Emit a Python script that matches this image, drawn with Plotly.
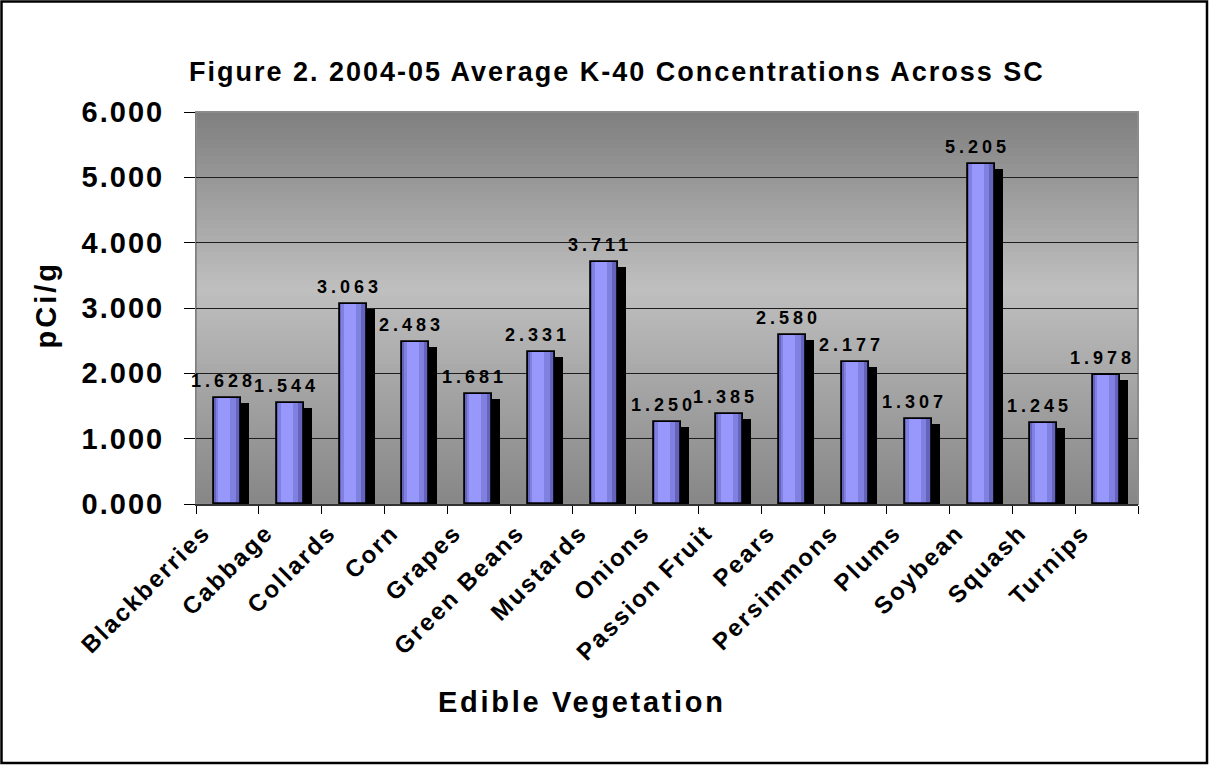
import plotly.graph_objects as go

# ---- data -------------------------------------------------------------
categories = [
    "Blackberries", "Cabbage", "Collards", "Corn", "Grapes", "Green Beans",
    "Mustards", "Onions", "Passion Fruit", "Pears", "Persimmons", "Plums",
    "Soybean", "Squash", "Turnips",
]
k40_pci_g = [
    1.628, 1.544, 3.063, 2.483, 1.681, 2.331,
    3.711, 1.250, 1.385, 2.580, 2.177, 1.307,
    5.205, 1.245, 1.978,
]
y_tick_values = [0, 1, 2, 3, 4, 5, 6]

chart_title = "Figure 2. 2004-05 Average K-40 Concentrations Across SC"
x_axis_title = "Edible Vegetation"
y_axis_title = "pCi/g"

# ---- geometry / style ---------------------------------------------------
W, H = 1209, 765
ML, MR, MT, MB = 196, 71, 112, 261
PW, PH = W - ML - MR, H - MT - MB
FONT = "Arial, Liberation Sans, sans-serif"

BW = 0.43                      # bar width (category units)
SHADOW_DX = 0.13               # shadow offset to the right
SHADOW_DROP = 5 / PH * 6       # shadow drop, ~5 px in y units


def px_x(px):
    """figure pixel x -> paper x"""
    return (px - ML) / PW


def px_y(py):
    """figure pixel y (from top) -> paper y"""
    return (H - MB - py) / PH


fig = go.Figure()

# drop shadow behind every bar
fig.add_trace(go.Bar(
    x=categories, y=[v - SHADOW_DROP for v in k40_pci_g],
    width=BW, offset=-BW / 2 + SHADOW_DX,
    marker=dict(color="#000000", line=dict(width=0)),
    hoverinfo="skip", showlegend=False,
))
# bar body: dark edges, lighter middle bands (cylinder-like shading)
for frac_left, frac_w, col in [
    (0.00, 1.00, "#6464bc"),
    (0.06, 0.74, "#8080e0"),
    (0.16, 0.44, "#9898fc"),
]:
    fig.add_trace(go.Bar(
        x=categories, y=k40_pci_g,
        width=BW * frac_w, offset=-BW / 2 + BW * frac_left,
        marker=dict(color=col, line=dict(width=0)),
        hoverinfo="skip", showlegend=False,
    ))
# outline on top
fig.add_trace(go.Bar(
    x=categories, y=k40_pci_g,
    width=BW, offset=-BW / 2,
    marker=dict(color="rgba(0,0,0,0)", line=dict(color="#000000", width=1.8)),
    hovertemplate="%{x}: %{y:.3f} pCi/g<extra></extra>",
    showlegend=False,
))

# ---- plot-area background: vertical gray gradient --------------------
shapes = []
N = 98
stops = [(0.0, 127), (0.45, 191), (1.0, 134)]


def gray_at(t):
    for (t0, g0), (t1, g1) in zip(stops[:-1], stops[1:]):
        if t0 <= t <= t1:
            return g0 + (g1 - g0) * (t - t0) / (t1 - t0)
    return stops[-1][1]


for i in range(N):
    g = int(round(gray_at((i + 0.5) / N)))
    shapes.append(dict(
        type="rect", xref="x domain", yref="y domain",
        x0=0, x1=1, y0=1 - (i + 1) / N - 0.002, y1=1 - i / N,
        fillcolor=f"rgb({g},{g},{g})", line=dict(width=0), layer="below",
    ))
# plot-area frame
shapes.append(dict(
    type="rect", xref="x domain", yref="y domain", x0=0, x1=1, y0=0, y1=1,
    line=dict(color="#8c8c8c", width=2), fillcolor="rgba(0,0,0,0)", layer="below",
))
# outer chart border
shapes.append(dict(
    type="rect", xref="paper", yref="paper",
    x0=px_x(1.5), x1=px_x(W - 2), y0=px_y(H - 2), y1=px_y(1.5),
    line=dict(color="#000000", width=2.5), fillcolor="rgba(0,0,0,0)", layer="above",
))

# ---- text: titles and value labels -----------------------------------
annotations = [
    dict(text=chart_title, xref="paper", yref="paper",
         x=px_x(617), y=px_y(72), xanchor="center", yanchor="middle",
         showarrow=False, font=dict(family=FONT, size=27, color="#000", weight="bold")),
    dict(text=x_axis_title, xref="paper", yref="paper",
         x=px_x(582), y=px_y(702), xanchor="center", yanchor="middle",
         showarrow=False, font=dict(family=FONT, size=29, color="#000", weight="bold")),
    dict(text=y_axis_title, xref="paper", yref="paper",
         x=px_x(46), y=px_y(305), xanchor="center", yanchor="middle",
         textangle=-90, showarrow=False,
         font=dict(family=FONT, size=29, color="#000", weight="bold")),
]
for cat, v in zip(categories, k40_pci_g):
    annotations.append(dict(
        text=f"{v:.3f}", x=cat, y=v, xref="x", yref="y",
        xanchor="center", yanchor="bottom", yshift=5, xshift=-4,
        showarrow=False, font=dict(family=FONT, size=18, color="#000", weight="bold"),
    ))

fig.update_layout(
    width=W, height=H,
    margin=dict(l=ML, r=MR, t=MT, b=MB, autoexpand=False),
    paper_bgcolor="#ffffff", plot_bgcolor="rgba(0,0,0,0)",
    barmode="overlay", bargap=0,
    showlegend=False,
    shapes=shapes, annotations=annotations,
    font=dict(family=FONT, color="#000"),
)
fig.update_xaxes(
    type="category", range=[-0.5, len(categories) - 0.5],
    tickangle=-45, tickson="boundaries", ticks="outside", ticklen=8,
    tickcolor="#000", tickwidth=1,
    tickfont=dict(family=FONT, size=24, color="#000", weight="bold"),
    ticklabelshift=-24, ticklabelstandoff=3,
    showline=True, linecolor="#333333", linewidth=2,
    showgrid=False, zeroline=False,
)
fig.update_yaxes(
    range=[0, 6], tickvals=y_tick_values, tickformat=".3f",
    ticks="outside", ticklen=11, tickcolor="#000", tickwidth=1,
    tickfont=dict(family=FONT, size=29, color="#000", weight="bold"),
    ticklabelstandoff=14,
    showline=True, linecolor="#808080", linewidth=1,
    showgrid=True, gridcolor="#1e1e1e", gridwidth=1, zeroline=False,
)

# letter-spaced lettering for titles, ticks and value labels
post_js = """
var gd = document.getElementById('{plot_id}');
function spaced(sel, v) {
  gd.querySelectorAll(sel).forEach(function (t) { t.style.letterSpacing = v; });
}
spaced('.annotation[data-index="0"] .annotation-text', '2px');
spaced('.annotation[data-index="1"] .annotation-text', '2.7px');
spaced('.annotation[data-index="2"] .annotation-text', '3px');
gd.querySelectorAll('.annotation').forEach(function (a) {
  if (parseInt(a.getAttribute('data-index')) > 2) {
    a.querySelectorAll('.annotation-text').forEach(function (t) { t.style.letterSpacing = '4px'; });
  }
});
spaced('.xtick text', '2.2px');
spaced('.ytick text', '2px');
"""

fig.write_html("out.html", post_script=post_js)
